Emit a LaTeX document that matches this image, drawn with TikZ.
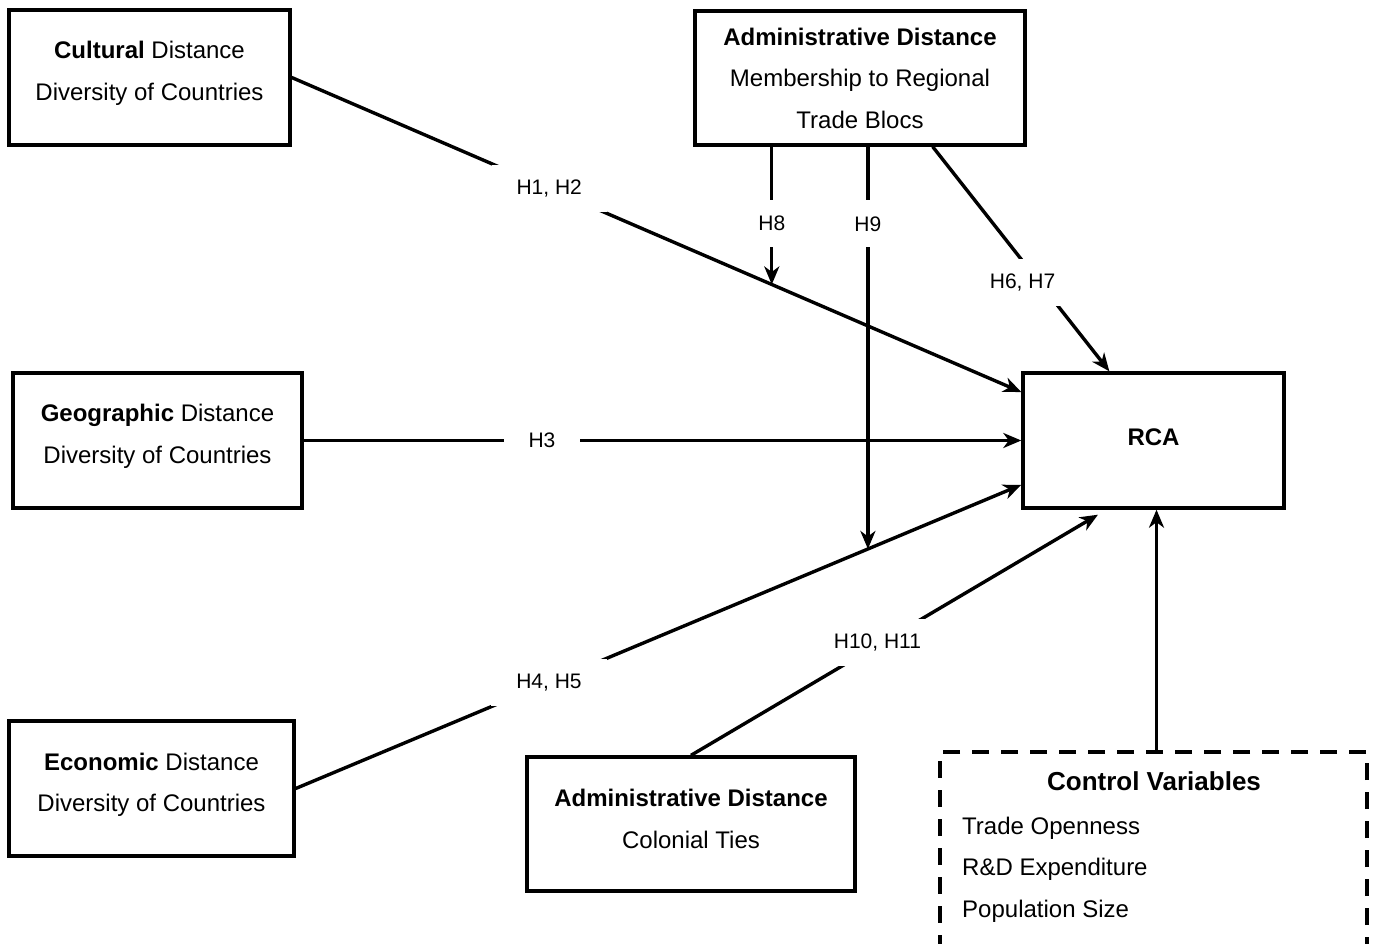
\documentclass[tikz,border=0pt]{standalone}
\usepackage{fontspec}
\setmainfont{Liberation Sans}
\usetikzlibrary{arrows.meta,calc}
\begin{document}
\begin{tikzpicture}[x=1pt,y=-1pt,
  box/.style={draw,line width=3.4pt,rectangle,inner sep=0pt},
  ctrlbox/.style={draw,line width=3.4pt,rectangle,inner sep=0pt,dash pattern=on 17pt off 12pt},
  txt/.style={align=center,inner sep=0pt,font=\fontsize{24}{41.5}\selectfont},
  itm/.style={anchor=west,inner sep=0pt,font=\fontsize{24}{29}\selectfont},
  lbl/.style={fill=white,inner xsep=25pt,inner ysep=0pt,minimum height=47pt,font=\fontsize{21}{25}\selectfont},
  arr/.style={line width=3.4pt,-{Stealth[length=18pt,width=15pt,inset=5.5pt]}}]
\useasboundingbox (0,0) rectangle (1379,944);
\clip (0,0) rectangle (1379,944);

% boxes
\node[box,minimum width=281pt,minimum height=135pt] (cult) at (149.5,77.5) {};
\node[box,minimum width=289pt,minimum height=135pt] (geo)  at (157.5,440.5) {};
\node[box,minimum width=285pt,minimum height=135pt] (eco)  at (151.5,788.5) {};
\node[box,minimum width=330pt,minimum height=134pt] (adm)  at (860,78) {};
\node[box,minimum width=328pt,minimum height=134pt] (col)  at (691,824) {};
\node[box,minimum width=261pt,minimum height=135pt] (rca)  at (1153.5,440.5) {};
\node[ctrlbox,minimum width=427pt,minimum height=210pt] (ctrl) at (1153.5,857) {};

% box texts
\node[txt] (cultT) at (149.5,73.5) {\textbf{Cultural} Distance\\Diversity of Countries};
\node[txt] (geoT)  at (157.5,436.5) {\textbf{Geographic} Distance\\Diversity of Countries};
\node[txt] (ecoT)  at (151.5,785) {\textbf{Economic} Distance\\Diversity of Countries};
\node[txt] (admT)  at (860,78) {\textbf{Administrative Distance}\\Membership to Regional\\Trade Blocs};
\node[txt] (colT)  at (691,819) {\textbf{Administrative Distance}\\Colonial Ties};
\node[txt] (rcaT)  at (1153.5,437) {\textbf{RCA}};
\node[inner sep=0pt,font=\fontsize{26}{31}\selectfont\bfseries] (ctrlT) at (1154,781) {Control Variables};
\node[itm] (c1) at (962,828) {Trade Openness};
\node[itm] (c2) at (962,869) {R\&D Expenditure};
\node[itm] (c3) at (962,911) {Population Size};

% arrow targets on the RCA box
\coordinate (rcaA) at ($(rca.north west)!0.15!(rca.south west)$);
\coordinate (rcaC) at ($(rca.north west)!0.82!(rca.south west)$);
\coordinate (rcaN) at ($(rca.north west)!0.333!(rca.north east)$);
\coordinate (rcaS) at ($(rca.south west)!0.29!(rca.south east)+(0,5)$);
\coordinate (admS) at ($(adm.south west)!0.718!(adm.south east)$);

% direct effects
\draw[arr] (cult.east) -- node[lbl,pos=0.353] (h12) {H1, H2} (rcaA);
\draw[arr] (geo.east) -- node[lbl,pos=0.332] (h3) {H3} (rca.west);
\draw[arr] (eco.east) -- node[lbl,pos=0.349] (h45) {H4, H5} (rcaC);
\draw[arr] (admS) -- node[lbl,pos=0.605,xshift=-17pt] (h67) {H6, H7} (rcaN);
\draw[arr] (col.north) -- node[lbl,pos=0.468,xshift=-4pt] (h1011) {H10, H11} (rcaS);
\draw[arr] ($(ctrl.north)+(3,0)$) -- ($(rca.south)+(3,0)$);

% moderating effects
\coordinate (m8) at ($(cult.east)!0.658!(rcaA)$);
\coordinate (m9) at ($(eco.east)!0.7886!(rcaC)$);
\draw[arr] (m8 |- adm.south) -- node[lbl,pos=0.556] (h8) {H8} (m8);
\draw[arr] (m9 |- adm.south) -- node[lbl,pos=0.192] (h9) {H9} (m9);
\end{tikzpicture}
\end{document}
